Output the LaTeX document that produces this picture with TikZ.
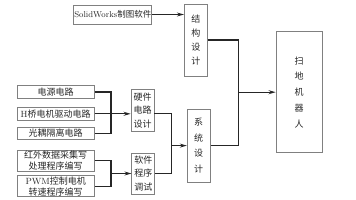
\documentclass[tikz,border=0pt]{standalone}
\usepackage{fontspec}
\newfontfamily\cjk{Noto Sans CJK SC}
\usetikzlibrary{arrows.meta}

\tikzset{
  box/.style={draw=black!50, line width=0.8pt, inner sep=0pt, text=black!85, font=\cjk\fontsize{9}{13}\selectfont},
  hbox/.style={box, minimum width=77pt, minimum height=12.5pt},
  tbox/.style={box, minimum width=77pt, minimum height=21pt, align=center, font=\cjk\fontsize{9}{10.8}\selectfont},
  vbox/.style={box, minimum width=23pt, align=center},
  link/.style={line width=1.1pt, black!85},
  arr/.style={link, -{Stealth[length=7pt,width=4pt]}}
}

\begin{document}
\begin{tikzpicture}[x=1pt,y=-1pt]
\useasboundingbox (0,0) rectangle (356,200);

\node[box, minimum width=78pt, minimum height=19pt, font=\cjk\fontsize{8.5}{13}\selectfont] (sw) at (112.8,14.5) {{\rmfamily SolidWorks}制图软件};
\node[vbox, minimum height=72pt, font=\cjk\fontsize{9}{14}\selectfont] (jg) at (195.8,40) {结\\构\\设\\计};
\node[box, minimum width=46pt, minimum height=121pt, align=center, font=\cjk\fontsize{9}{15.7}\selectfont] (robot) at (299,92.2) {扫\\地\\机\\器\\人};

\node[hbox] (dy) at (55.7,92) {电源电路};
\node[hbox] (hq) at (55.7,113.8) {{\rmfamily H}桥电机驱动电路};
\node[hbox] (go) at (55.7,133.3) {光耦隔离电路};
\node[tbox] (ir) at (55.7,160.5) {红外数据采集写\\处理程序编写};
\node[tbox] (pwm) at (55.7,186.2) {{\rmfamily PWM}控制电机\\转速程序编写};

\node[vbox, minimum height=42.5pt, font=\cjk\fontsize{9}{13.5}\selectfont] (hw) at (142.5,110.5) {硬件\\电路\\设计};
\node[vbox, minimum height=41pt, font=\cjk\fontsize{9}{13.5}\selectfont] (soft) at (143.3,173.5) {软件\\程序\\调试};
\node[vbox, minimum height=72.7pt, font=\cjk\fontsize{9}{15.5}\selectfont] (sys) at (198.7,145.6) {系\\统\\设\\计};

\coordinate (b1) at (111,0);
\coordinate (b2) at (171.5,0);
\coordinate (b3) at (238.7,0);

% top branch
\draw[arr] (sw.east) -- (sw.east -| jg.west);

% hardware
\draw[link] (dy.east) -- (dy.east -| b1) -- (go.east -| b1) -- (go.east);
\draw[arr] (hq.east) -- (hq.east -| hw.west);

% software
\draw[link] (ir.east) -- (ir.east -| b1) -- (pwm.east -| b1) -- (pwm.east);
\draw[arr] (soft.west -| b1) -- (soft.west);

% system
\draw[link] (hw.east |- hq.east) -- (hq.east -| b2) -- (soft.east -| b2) -- (soft.east);
\draw[arr] (sys.west -| b2) -- (sys.west);

% robot
\draw[link] (jg.east) -- (jg.east -| b3) -- (sys.east -| b3) -- (sys.east);
\draw[arr] (robot.west -| b3) -- (robot.west);
\end{tikzpicture}
\end{document}
